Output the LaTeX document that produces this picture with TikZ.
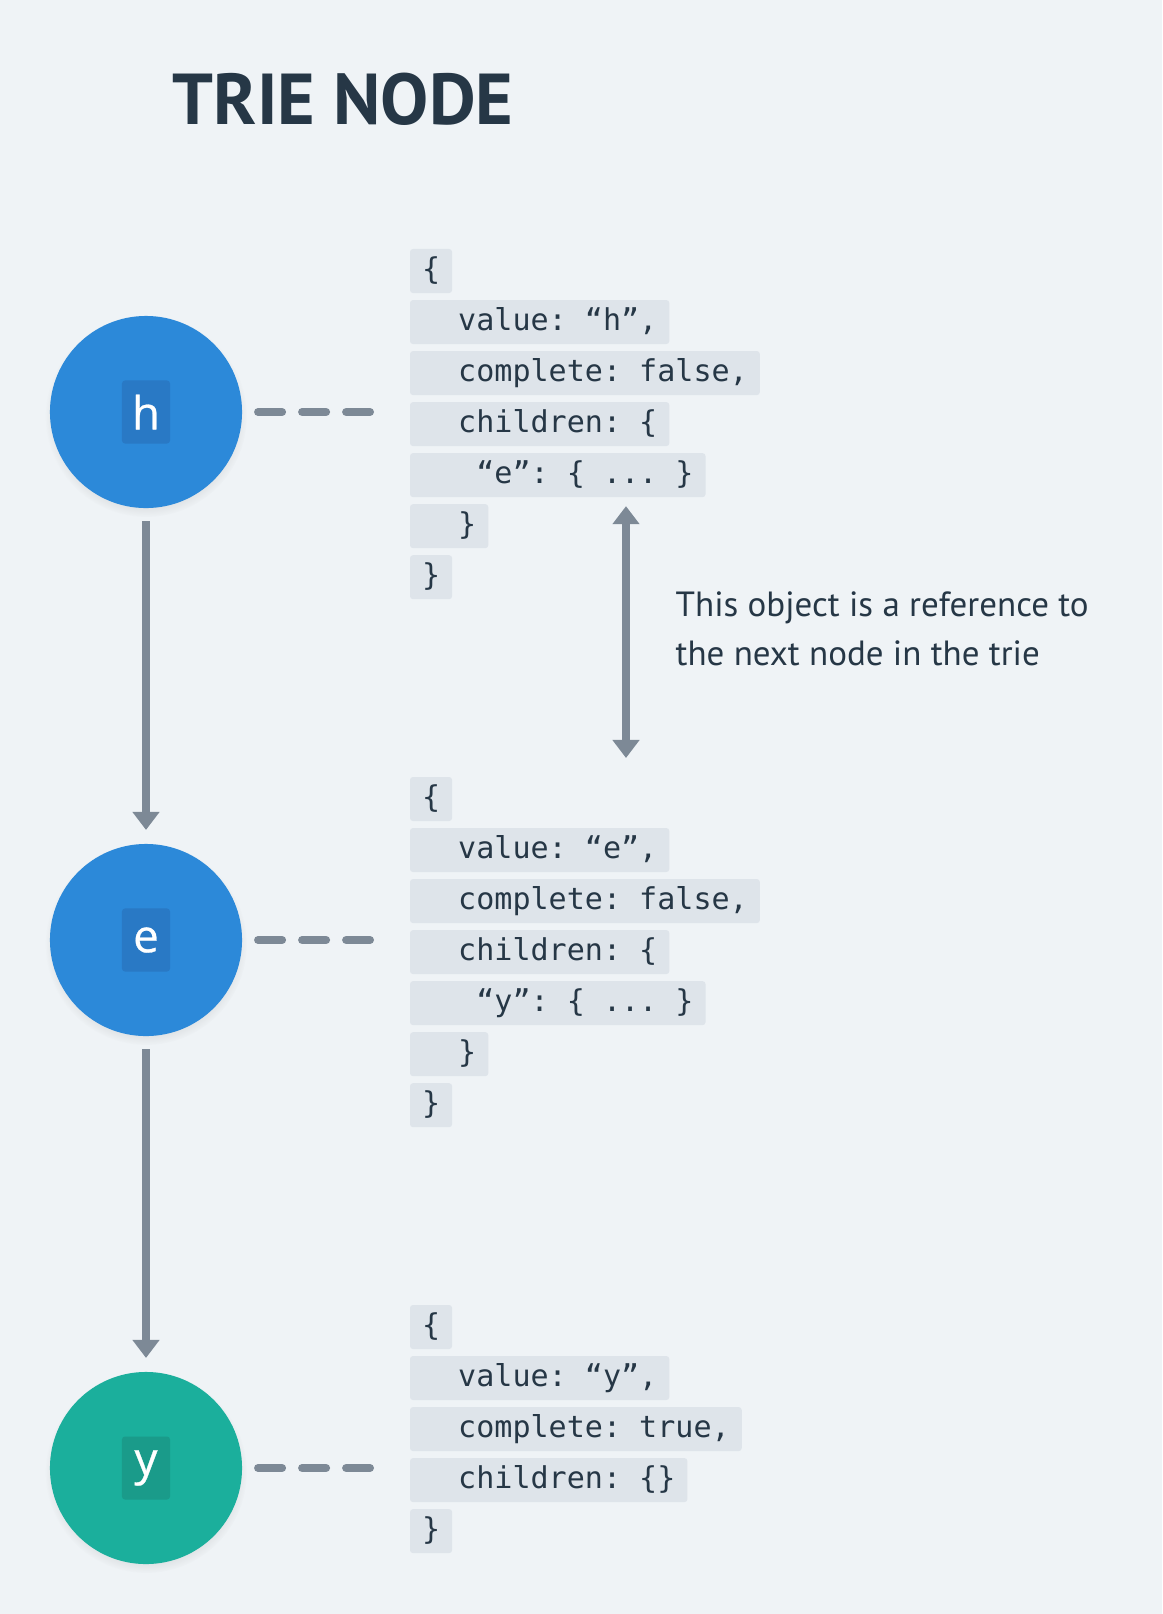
\documentclass[tikz,border=0pt]{standalone}
\usepackage{fontspec}
\usepackage{tikz}
\usepackage{xcolor}
\usetikzlibrary{positioning,calc,arrows.meta,shadows}
\setmainfont{PT Sans}
\setmonofont{DejaVu Sans Mono}
\newfontfamily\letterfont{Open Sans}[FakeBold=0.6]

\definecolor{pagebg}{HTML}{EFF3F6}
\definecolor{ink}{HTML}{263746}
\definecolor{codebg}{HTML}{DEE4EA}
\definecolor{wire}{HTML}{7D8996}
\definecolor{nodeblue}{HTML}{2C89D9}
\definecolor{boxblue}{HTML}{2979C5}
\definecolor{nodeteal}{HTML}{1BAF9C}
\definecolor{boxteal}{HTML}{1A9B8A}

\begin{document}
\begin{tikzpicture}[x=0.01cm, y=-0.01cm,
    trie/.style={circle, minimum size=1.92cm, inner sep=0pt, outer sep=0pt,
        circular drop shadow={shadow xshift=0pt, shadow yshift=-0.04cm, shadow scale=1.05, opacity=0.2}},
    letter/.style={rounded corners=0.03cm, minimum width=0.48cm, minimum height=0.63cm, inner sep=0pt,
        text=white, font=\letterfont\fontsize{13}{15}\selectfont},
    code/.style={fill=codebg, rounded corners=0.03cm, minimum height=0.44cm, inner xsep=0.12cm, inner ysep=0pt, outer sep=0pt,
        text height=0.23cm, text depth=0.07cm, text=ink, font=\ttfamily\fontsize{8.55}{10}\selectfont},
    rowbelow/.style={below right=0.07cm and 0cm of #1.south west},
    link/.style={draw=wire, line width=0.08cm, line cap=round, dash pattern=on 0.24cm off 0.2cm},
    flow/.style={draw=wire, line width=0.08cm, -{Triangle[width=0.26cm, length=0.18cm]}}]

    % page
    \fill[pagebg] (0,0) rectangle (1162,1614);
    \useasboundingbox (0,0) rectangle (1162,1614);

    \node[anchor=base west, inner sep=0pt, text=ink, font=\bfseries\fontsize{20.5}{24}\selectfont] (title) at (172,124) {TRIE NODE};

    % trie nodes
    \node[trie, fill=nodeblue] (h) at (146,412) {};
    \node[trie, fill=nodeblue] (e) at (146,940) {};
    \node[trie, fill=nodeteal] (y) at (146,1468) {};
    \node[letter, fill=boxblue] (hl) at (h) {h};
    \node[letter, fill=boxblue] (el) at (e) {e};
    \node[letter, fill=boxteal] (yl) at (y) {y};

    % objects
    \node[code, anchor=west] (h0) at (410,271) {\{};
    \node[code, rowbelow=h0] (h1) {\ \ value: “h”,};
    \node[code, rowbelow=h1] (h2) {\ \ complete: false,};
    \node[code, rowbelow=h2] (h3) {\ \ children: \{};
    \node[code, rowbelow=h3] (h4) {\ \ \ “e”: \{ ... \}};
    \node[code, rowbelow=h4] (h5) {\ \ \}};
    \node[code, rowbelow=h5] (h6) {\}};

    \node[code, anchor=west] (e0) at (410,799) {\{};
    \node[code, rowbelow=e0] (e1) {\ \ value: “e”,};
    \node[code, rowbelow=e1] (e2) {\ \ complete: false,};
    \node[code, rowbelow=e2] (e3) {\ \ children: \{};
    \node[code, rowbelow=e3] (e4) {\ \ \ “y”: \{ ... \}};
    \node[code, rowbelow=e4] (e5) {\ \ \}};
    \node[code, rowbelow=e5] (e6) {\}};

    \node[code, anchor=west] (y0) at (410,1327) {\{};
    \node[code, rowbelow=y0] (y1) {\ \ value: “y”,};
    \node[code, rowbelow=y1] (y2) {\ \ complete: true,};
    \node[code, rowbelow=y2] (y3) {\ \ children: \{\}};
    \node[code, rowbelow=y3] (y4) {\}};

    \node[anchor=base west, inner sep=0pt, align=left, text=ink, font=\fontsize{9.95}{13.66}\selectfont] (note) at (675,665)
        {This object is a reference to\\the next node in the trie};

    % connectors
    \draw[link] ([xshift=0.16cm]h.east) -- ($(h.east -| h0.west)+(-40,0)$);
    \draw[link] ([xshift=0.16cm]e.east) -- ($(e.east -| e0.west)+(-40,0)$);
    \draw[link] ([xshift=0.16cm]y.east) -- ($(y.east -| y0.west)+(-40,0)$);

    \draw[flow] ([yshift=-0.13cm]h.south) -- ([yshift=0.14cm]e.north);
    \draw[flow] ([yshift=-0.13cm]e.south) -- ([yshift=0.14cm]y.north);
    \draw[flow, {Triangle[width=0.26cm, length=0.18cm]}-{Triangle[width=0.26cm, length=0.18cm]}]
        ($(h4.south west)+(216,9)$) -- ($(e0.north west)+(216,-19)$);
\end{tikzpicture}
\end{document}
